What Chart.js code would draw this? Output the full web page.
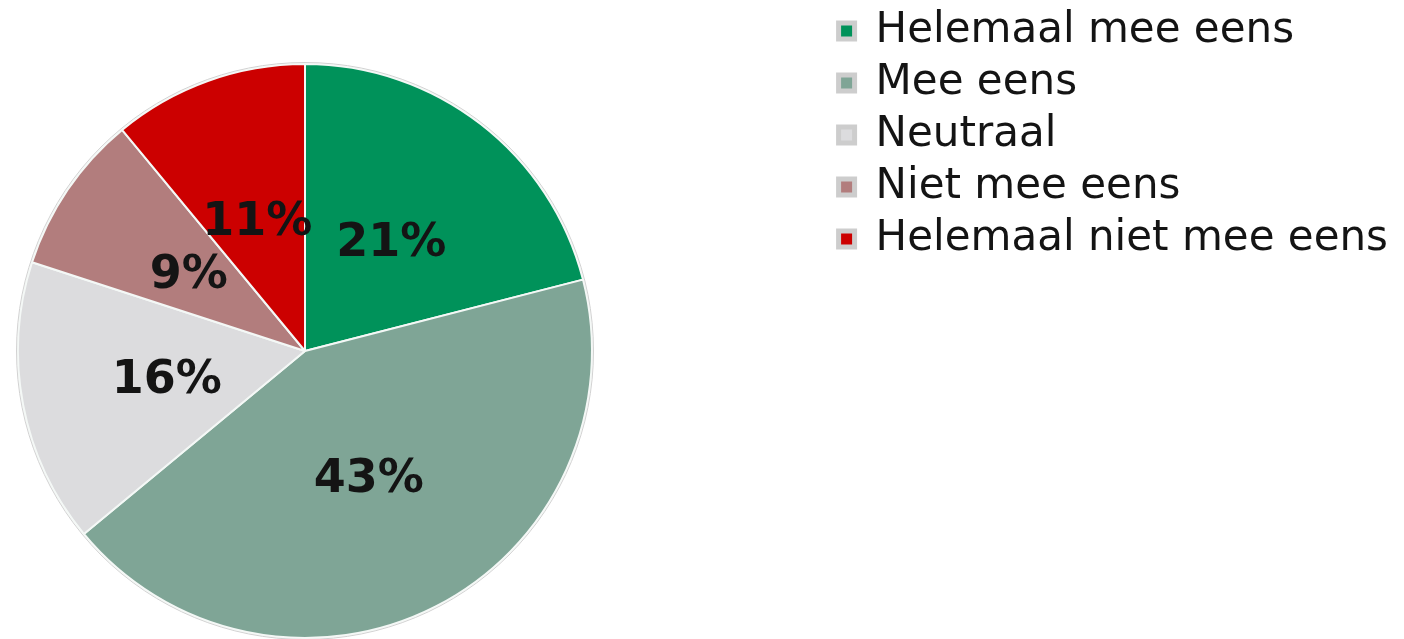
<!DOCTYPE html>
<html>
<head>
<meta charset="utf-8">
<script src="https://cdn.jsdelivr.net/npm/chart.js@4/dist/chart.umd.min.js"></script>
<style>
  html, body { margin: 0; padding: 0; background: #ffffff; overflow: hidden; }
  #wrap { width: 1404px; height: 702px; position: relative; }
</style>
</head>
<body>
<div id="wrap"><canvas id="pieChart"></canvas></div>
<script>
// data
const categories = ['Helemaal mee eens', 'Mee eens', 'Neutraal', 'Niet mee eens', 'Helemaal niet mee eens'];
const percentages = [21, 43, 16, 9, 11];
const sliceColors = ['#00925a', '#7fa596', '#dcdcde', '#b27d7d', '#cc0000'];

const legendFontSize = 42;
const legendPad = 10;
const legendBox = 16;
const padLeft = 17;
const padRight = 6;
const pieSize = 576;

// empty box between pie and legend so the pie sits on the left
const spacerPlugin = {
  id: 'spacer',
  beforeInit(chart) {
    const spacer = {
      position: 'right',
      weight: 0,
      fullSize: false,
      options: {},
      width: 0, height: 0, left: 0, top: 0, right: 0, bottom: 0,
      isHorizontal() { return false; },
      update(maxWidth, maxHeight) {
        const ctx = chart.ctx;
        ctx.save();
        ctx.font = 'normal ' + legendFontSize + 'px "DejaVu Sans"';
        let textW = 0;
        categories.forEach(c => { textW = Math.max(textW, ctx.measureText(c).width); });
        ctx.restore();
        const legendW = 2 * legendPad + legendBox + legendFontSize / 2 + textW;
        this.width = Math.max(chart.width - padLeft - padRight - pieSize - legendW, 0);
        this.height = maxHeight;
        return this.width;
      },
      draw() {}
    };
    Chart.layouts.addBox(chart, spacer);
  }
};

// percentage labels inside the slices + thin outer ring
const sliceLabels = {
  id: 'sliceLabels',
  afterDatasetsDraw(chart) {
    const ctx = chart.ctx;
    const meta = chart.getDatasetMeta(0);
    ctx.save();
    meta.data.forEach((arc, i) => {
      const p = arc.getProps(['x', 'y', 'startAngle', 'endAngle', 'outerRadius'], true);
      if (i === 0) {
        ctx.beginPath();
        ctx.arc(p.x, p.y, p.outerRadius + 1.5, 0, Math.PI * 2);
        ctx.strokeStyle = '#d2d2d2';
        ctx.lineWidth = 1;
        ctx.stroke();
      }
      const mid = (p.startAngle + p.endAngle) / 2;
      const r = p.outerRadius * 0.49;
      ctx.font = 'bold 46px "DejaVu Sans"';
      ctx.fillStyle = '#141414';
      ctx.textAlign = 'center';
      ctx.textBaseline = 'middle';
      ctx.fillText(percentages[i] + '%', p.x + Math.cos(mid) * r, p.y + Math.sin(mid) * r + 4);
    });
    ctx.restore();
  }
};

var ctx = document.getElementById('pieChart').getContext('2d');
new Chart(ctx, {
  type: 'pie',
  data: {
    labels: categories,
    datasets: [{
      data: percentages,
      backgroundColor: sliceColors,
      borderColor: '#f4f8f6',
      borderWidth: 2
    }]
  },
  options: {
    responsive: true,
    maintainAspectRatio: false,
    animation: false,
    layout: { padding: { left: padLeft, right: padRight, top: 0, bottom: 0 } },
    plugins: {
      tooltip: { enabled: false },
      legend: {
        position: 'right',
        align: 'start',
        maxWidth: 700,
        labels: {
          boxWidth: legendBox,
          boxHeight: legendBox,
          padding: legendPad,
          color: '#141414',
          font: { family: '"DejaVu Sans"', size: legendFontSize },
          generateLabels: chart => chart.data.labels.map((text, i) => ({
            text: text,
            fillStyle: sliceColors[i],
            strokeStyle: '#cdcdcd',
            lineWidth: 5,
            fontColor: '#141414',
            hidden: false,
            index: i
          }))
        }
      }
    }
  },
  plugins: [spacerPlugin, sliceLabels]
});
</script>
</body>
</html>
